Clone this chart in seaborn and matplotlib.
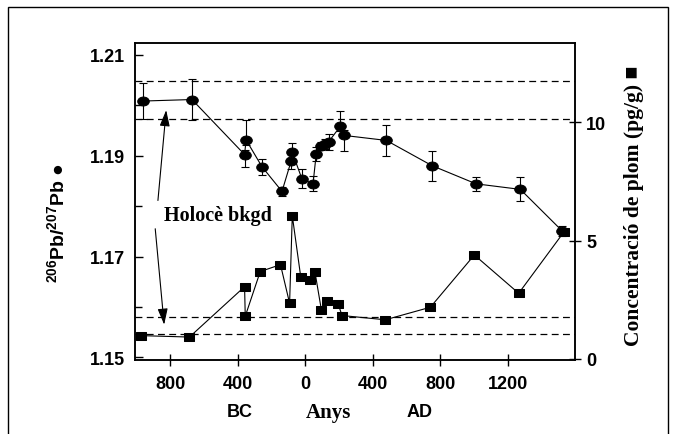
import matplotlib
matplotlib.use("Agg")
import matplotlib.pyplot as plt
import seaborn as sns
import pandas as pd
from matplotlib.path import Path
from matplotlib.transforms import Affine2D
from matplotlib.patches import Rectangle
from matplotlib.ticker import MultipleLocator

# ---------------- data ----------------
ratio_years = [-963, -672, -360, -351, -257, -138, -83, -79, -20, 46, 65, 93,
               115, 138, 208, 228, 481, 752, 1013, 1276, 1523]
ratio_values = [1.2008, 1.2011, 1.1902, 1.1931, 1.1878, 1.1829, 1.1890, 1.1908,
                1.1854, 1.1844, 1.1903, 1.1919, 1.1923, 1.1927, 1.1958, 1.1940,
                1.1930, 1.1880, 1.1844, 1.1833, 1.1751]
ratio_err_low = [0.0036, 0.0040, 0.0025, 0.0010, 0.0016, 0.0009, 0.0016, 0.0005,
                 0.0019, 0.0015, 0.0013, 0.0008, 0.0010, 0.0015, 0.0010, 0.0030,
                 0.0030, 0.0030, 0.0014, 0.0024, 0.0010]
ratio_err_high = [0.0036, 0.0040, 0.0010, 0.0040, 0.0016, 0.0009, 0.0005, 0.0017,
                  0.0019, 0.0015, 0.0013, 0.0008, 0.0010, 0.0015, 0.0030, 0.0010,
                  0.0030, 0.0030, 0.0014, 0.0024, 0.0010]

conc_years = [-973, -687, -360, -356, -267, -147, -93, -77, -27, 30, 58, 96,
              126, 195, 218, 475, 742, 1003, 1266, 1533]
conc_values = [0.98, 0.92, 3.05, 1.80, 3.69, 3.98, 2.35, 6.05, 3.47, 3.35, 3.65,
               2.05, 2.43, 2.32, 1.83, 1.65, 2.18, 4.39, 2.77, 5.35]

ratio_background = [1.1973, 1.2047]
conc_background = [1.03, 1.75]

x_tick_values = [-800, -400, 0, 400, 800, 1200]
x_tick_labels = ["800", "400", "0", "400", "800", "1200"]
left_tick_values = [1.15, 1.17, 1.19, 1.21]
left_tick_labels = ["1.15", "1.17", "1.19", "1.21"]
right_tick_values = [0, 5, 10]
right_tick_labels = ["0", "5", "10"]

ratio_df = pd.DataFrame({"year": ratio_years, "ratio": ratio_values})
conc_df = pd.DataFrame({"year": conc_years, "conc": conc_values})

# ---------------- style ----------------
sns.set_theme(style="ticks")
plt.rcParams["font.family"] = ["Liberation Sans", "DejaVu Sans"]
plt.rcParams["font.weight"] = "bold"
plt.rcParams["mathtext.fontset"] = "custom"
plt.rcParams["mathtext.bf"] = "Liberation Sans:bold"
plt.rcParams["mathtext.rm"] = "Liberation Sans:bold"
plt.rcParams["axes.edgecolor"] = "black"
plt.rcParams["axes.linewidth"] = 1.1
for key in ("text.color", "axes.labelcolor", "xtick.color", "ytick.color"):
    plt.rcParams[key] = "black"

W, H = 676, 435
fig = plt.figure(figsize=(W / 100, H / 100), dpi=100)
fig.patch.set_facecolor("white")
ax_l, ax_r, ax_t, ax_b = 135, 575, 44, 361
ax = fig.add_axes([ax_l / W, (H - ax_b) / H, (ax_r - ax_l) / W, (ax_b - ax_t) / H])
ax2 = ax.twinx()

ellipse = Affine2D().scale(1.3, 1.0).transform_path(Path.unit_circle())
rect = Path([(-0.62, -0.5), (0.62, -0.5), (0.62, 0.5), (-0.62, 0.5), (-0.62, -0.5)],
            [Path.MOVETO, Path.LINETO, Path.LINETO, Path.LINETO, Path.CLOSEPOLY])

# background bands (dashed)
for v in ratio_background:
    ax.axhline(v, color="black", lw=0.9, ls=(0, (5.5, 3.5)), zorder=1)
for v in conc_background:
    ax2.axhline(v, color="black", lw=0.9, ls=(0, (5.5, 3.5)), zorder=1)

# isotope ratio series
ax.errorbar(ratio_years, ratio_values, yerr=[ratio_err_low, ratio_err_high],
            fmt="none", ecolor="black", elinewidth=0.8, capsize=3.2, capthick=0.8,
            zorder=2)
sns.lineplot(data=ratio_df, x="year", y="ratio", sort=False, estimator=None,
             ax=ax, color="black", lw=0.8, marker=ellipse, markersize=8.3,
             markerfacecolor="black", markeredgecolor="black", zorder=3)

# concentration series
sns.lineplot(data=conc_df, x="year", y="conc", sort=False, estimator=None,
             ax=ax2, color="black", lw=0.8, marker=rect, markersize=7.3,
             markerfacecolor="black", markeredgecolor="black", zorder=3)

# axes limits
ax.set_xlim(-1010, 1600)
ax.set_ylim(1.1495, 1.2123)
ax2.set_ylim(-0.05, 13.35)

ax.set_xlabel("")
ax.set_ylabel("")
ax2.set_ylabel("")

ax.set_xticks(x_tick_values, labels=x_tick_labels)
ax.set_yticks(left_tick_values, labels=left_tick_labels)
ax.yaxis.set_minor_locator(MultipleLocator(0.01))
ax2.set_yticks(right_tick_values, labels=right_tick_labels)

ax.tick_params(axis="x", direction="inout", length=8, width=1.0, pad=7,
               labelsize=13, colors="black")
ax.tick_params(axis="y", which="major", direction="in", length=6, width=1.0,
               pad=7, labelsize=13, colors="black")
ax.tick_params(axis="y", which="minor", direction="in", length=5, width=1.0,
               colors="black")
ax2.tick_params(axis="y", direction="inout", length=8, width=1.0, pad=4,
                labelsize=13, colors="black")
for a in (ax, ax2):
    for s in a.spines.values():
        s.set_visible(True)
        s.set_color("black")
        s.set_linewidth(1.1)
    for lbl in a.get_xticklabels() + a.get_yticklabels():
        lbl.set_fontweight("bold")
        lbl.set_color("black")

# annotation arrows
arrow_kw = dict(arrowstyle="-|>,head_length=0.7,head_width=0.22", color="black",
                lw=0.8, mutation_scale=14, shrinkA=0, shrinkB=0)
ax.annotate("", xy=(-825, 1.1990), xytext=(-874, 1.1811), arrowprops=arrow_kw)
ax.annotate("", xy=(-837, 1.1565), xytext=(-890, 1.1755), arrowprops=arrow_kw)

serif = ["Liberation Serif", "DejaVu Serif"]
fig.text(217.5 / W, 1 - 216 / H, "Holocè bkgd", family=serif, fontweight="bold",
         fontsize=14.5, ha="center", va="center", color="black")

# x-axis captions
fig.text(240 / W, 1 - 413 / H, "BC", fontweight="bold", fontsize=13,
         ha="center", va="center", color="black")
fig.text(328 / W, 1 - 413 / H, "Anys", family=serif, fontweight="bold",
         fontsize=15, ha="center", va="center", color="black")
fig.text(420 / W, 1 - 413 / H, "AD", fontweight="bold", fontsize=13,
         ha="center", va="center", color="black")

# y-axis titles
fig.text(57 / W, 1 - 223 / H, r"$\mathbf{^{206}Pb/^{207}Pb}$ ●", fontweight="bold",
         fontsize=14, rotation=90, ha="center", va="center", color="black",
         family=["Liberation Sans", "DejaVu Sans"])
fig.text(634 / W, 1 - 206 / H, "Concentració de plom (pg/g) ■", family=serif,
         fontweight="bold", fontsize=15.5, rotation=90, ha="center", va="center",
         color="black")

# outer frame
fig.patches.append(Rectangle((8 / W, -0.1), 660 / W, 1.1 - 8 / H,
                             transform=fig.transFigure, fill=False,
                             edgecolor="black", lw=1.0))

fig.savefig("out.png", dpi=100)
